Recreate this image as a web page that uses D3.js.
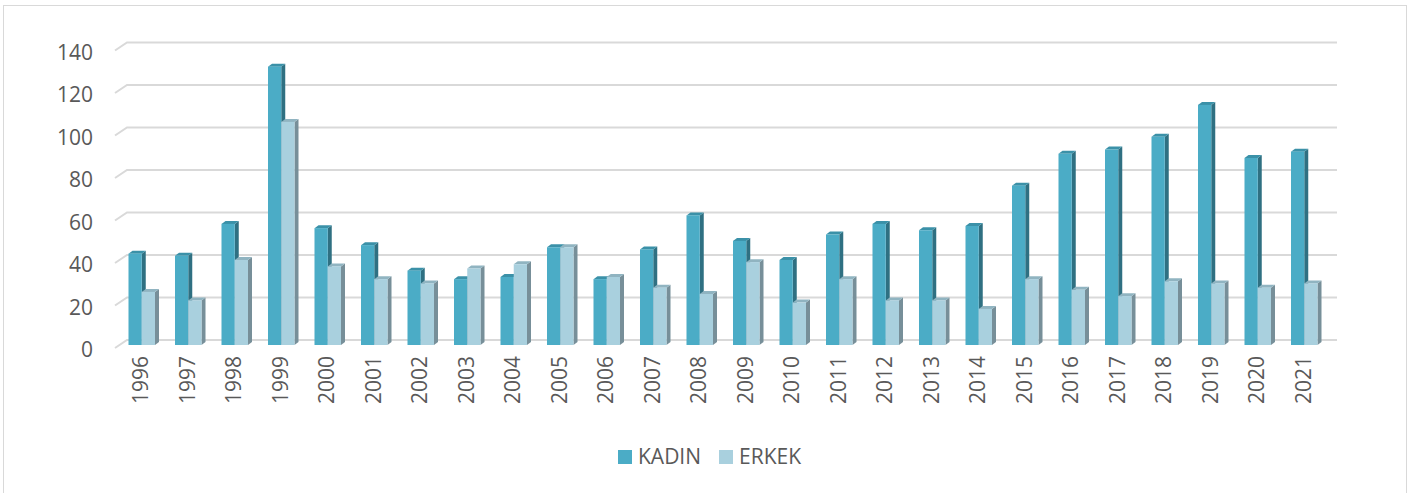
<!DOCTYPE html>
<meta charset="utf-8">
<script src="https://d3js.org/d3.v7.min.js"></script>
<style>
    body { margin: 0; background: #fff; }
    text { font-family: "Open Sans", sans-serif; fill: #595959; }
</style>
<div id="chart"></div>
<script>

    // data
    var years = ["1996", "1997", "1998", "1999", "2000", "2001", "2002", "2003", "2004", "2005",
        "2006", "2007", "2008", "2009", "2010", "2011", "2012", "2013", "2014", "2015",
        "2016", "2017", "2018", "2019", "2020", "2021"];
    var kadin = [43, 42, 57, 131, 55, 47, 35, 31, 32, 46, 31, 45, 61, 49, 40, 52, 57, 54, 56, 75, 90, 92, 98, 113, 88, 91];
    var erkek = [25, 21, 40, 105, 37, 31, 29, 36, 38, 46, 32, 27, 24, 39, 20, 31, 21, 21, 17, 31, 26, 23, 30, 29, 27, 29];
    var seriesNames = ["KADIN", "ERKEK"];
    var yTicks = [0, 20, 40, 60, 80, 100, 120, 140];

    // colours: front, side, top
    var colors = {
        KADIN: { front: "#4bacc6", side: "#2f7082", top: "#3b91a8" },
        ERKEK: { front: "#a9d0de", side: "#778f99", top: "#90b4c1" }
    };

    var W = 1416, H = 493;
    var depthX = 4, depthY = 3;   // oblique depth of each bar
    var wallX = 12, wallY = 8;    // offset of the back wall from the front

    var svg = d3.select("#chart").append("svg")
        .attr("width", W)
        .attr("height", H);

    svg.append("rect")
        .attr("width", W).attr("height", H)
        .attr("fill", "#fff");

    // chart border
    svg.append("rect")
        .attr("x", 3.5).attr("y", 5.5)
        .attr("width", 1403).attr("height", 500)
        .attr("fill", "none")
        .attr("stroke", "#d9d9d9");

    var x = d3.scaleBand()
        .domain(years)
        .range([118.5, 1327.5])
        .paddingInner(0.43)
        .paddingOuter(0.215);

    var xs = d3.scaleBand()
        .domain(seriesNames)
        .range([0, x.bandwidth()]);

    // value scale for bar fronts
    var y = d3.scaleLinear().domain([0, 140]).range([345, 47.5]);

    // gridlines on the back wall with a short diagonal on the side wall
    var grid = svg.append("g");
    yTicks.forEach(function (v) {
        var yb = y(v) - 5;
        grid.append("path")
            .attr("d", "M115," + (yb + wallY) + "L" + (115 + wallX) + "," + yb + "H1337")
            .attr("fill", "none")
            .attr("stroke", "#d9d9d9")
            .attr("stroke-width", 2);
    });

    // bars
    var rows = years.map(function (yr, i) {
        return { year: yr, values: [{ key: "KADIN", v: kadin[i] }, { key: "ERKEK", v: erkek[i] }] };
    });

    var groups = svg.selectAll(".grp")
        .data(rows)
        .enter().append("g")
        .attr("transform", function (d) { return "translate(" + x(d.year) + ",0)"; });

    var bars = groups.selectAll(".bar")
        .data(function (d) { return d.values; })
        .enter().append("g");

    // side face
    bars.append("path")
        .attr("fill", function (d) { return colors[d.key].side; })
        .attr("d", function (d) {
            var x1 = xs(d.key) + xs.bandwidth(), t = y(d.v), b = y(0);
            return "M" + x1 + "," + t + "L" + (x1 + depthX) + "," + (t - depthY) +
                "L" + (x1 + depthX) + "," + (b - depthY) + "L" + x1 + "," + b + "Z";
        });

    // top face
    bars.append("path")
        .attr("fill", function (d) { return colors[d.key].top; })
        .attr("d", function (d) {
            var x0 = xs(d.key), x1 = x0 + xs.bandwidth(), t = y(d.v);
            return "M" + x0 + "," + t + "L" + (x0 + depthX) + "," + (t - depthY) +
                "L" + (x1 + depthX) + "," + (t - depthY) + "L" + x1 + "," + t + "Z";
        });

    // front face
    bars.append("rect")
        .attr("x", function (d) { return xs(d.key); })
        .attr("y", function (d) { return y(d.v); })
        .attr("width", xs.bandwidth())
        .attr("height", function (d) { return y(0) - y(d.v); })
        .attr("fill", function (d) { return colors[d.key].front; });

    // Y axis labels
    var yLab = d3.scaleLinear().domain([0, 140]).range([350, 52.5]);
    var yAxis = svg.append("g")
        .attr("transform", "translate(93,0)")
        .call(d3.axisLeft(yLab).tickValues(yTicks).tickSize(0).tickPadding(0));
    yAxis.select(".domain").remove();
    yAxis.selectAll("text")
        .style("font-family", "'Open Sans', sans-serif")
        .style("font-size", "21px")
        .attr("fill", "#595959");

    // X axis labels, rotated
    var xAxis = svg.append("g")
        .attr("transform", "translate(-1,345)")
        .call(d3.axisBottom(x).tickSize(0));
    xAxis.select(".domain").remove();
    xAxis.selectAll("text")
        .attr("transform", "rotate(-90)")
        .attr("x", -11)
        .attr("y", 0)
        .attr("dy", "0.35em")
        .style("text-anchor", "end")
        .style("font-family", "'Open Sans', sans-serif")
        .style("font-size", "21px")
        .attr("fill", "#595959");

    // legend
    var legend = svg.append("g").attr("transform", "translate(618,450)");
    var legendX = { KADIN: 0, ERKEK: 101 };
    seriesNames.forEach(function (s) {
        legend.append("rect")
            .attr("x", legendX[s]).attr("y", 0)
            .attr("width", 14).attr("height", 14)
            .attr("fill", colors[s].front);
        legend.append("text")
            .attr("x", legendX[s] + 20)
            .attr("y", 7)
            .attr("dy", "0.35em")
            .style("font-size", "21px")
            .text(s);
    });

</script>
